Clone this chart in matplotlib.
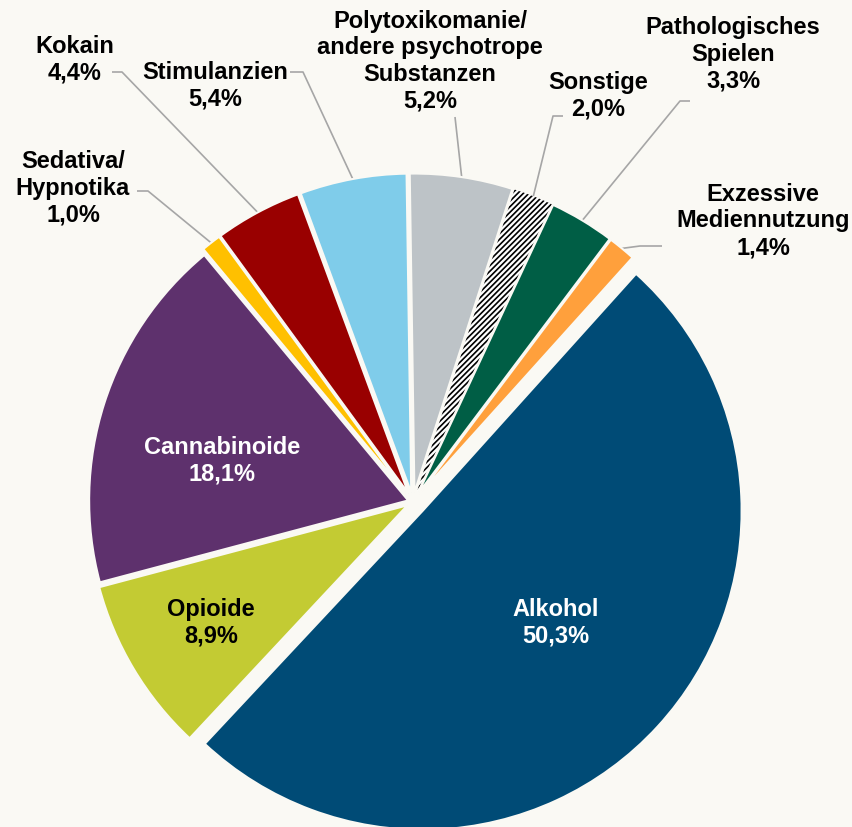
import matplotlib.pyplot as plt
import numpy as np

plt.rcParams['font.family'] = ['Liberation Sans', 'DejaVu Sans']
plt.rcParams['hatch.linewidth'] = 1.2

# data (clockwise from Alkohol)
names = ["Alkohol", "Opioide", "Cannabinoide", "Sedativa/\nHypnotika", "Kokain",
         "Stimulanzien", "Polytoxikomanie/\nandere psychotrope\nSubstanzen",
         "Sonstige", "Pathologisches\nSpielen", "Exzessive\nMediennutzung"]
values = [50.3, 8.9, 18.1, 1.0, 4.4, 5.4, 5.2, 2.0, 3.3, 1.4]
colors = ["#004B76", "#C3CB33", "#5E316D", "#FFC000", "#990000",
          "#7FCCEA", "#BDC3C7", "#FFFFFF", "#005E45", "#FFA03C"]

bg = "#FAF9F4"
W, H = 853, 828
fig = plt.figure(figsize=(W / 100, H / 100), dpi=100, facecolor=bg)
ax = fig.add_axes([0, 0, 1, 1])
ax.set_facecolor(bg)

cx, cy, R = 413, H - 503, 319
# explode given as fraction of radius; matplotlib adds it in data units
explode_frac = [0.041, 0.02, 0.016, 0.03, 0.03, 0.03, 0.03, 0.03, 0.03, 0.03]
wedges, _ = ax.pie(values, colors=colors, startangle=48, counterclock=False,
                   explode=[e * R for e in explode_frac], center=(cx, cy), radius=R,
                   wedgeprops=dict(edgecolor=bg, linewidth=1.5))
wedges[7].set_hatch("//////")
wedges[7].set_edgecolor("black")
wedges[7].set_linewidth(0)
ax.set_xlim(0, W)
ax.set_ylim(0, H)
ax.set_aspect("equal")
ax.axis("off")

def lab(i):
    return names[i] + "\n" + f"{values[i]:.1f}".replace(".", ",") + "%"

fs = 17
ls = 1.2
# inner labels
inner = {0: (556, 623, "white"), 1: (211, 623, "black"), 2: (222, 461, "white")}
for i, (x, y, c) in inner.items():
    ax.text(x, H - y, lab(i), color=c, fontsize=fs, fontweight="bold",
            ha="center", va="center", linespacing=ls)

# outer labels: text centre, leader start, elbow
outer = {
    3: ((73, 188), (137, 192), (148, 192)),
    4: ((75, 60), (112, 73), (122, 73)),
    5: ((215, 86), (290, 73), (303, 73)),
    6: ((430, 61), (455, 118), (455, 118)),
    7: ((598, 96), (563, 117), (553, 117)),
    8: ((733, 54), (690, 102), (680, 102)),
    9: ((763, 221), (662, 247), (640, 247)),
}
for i, ((tx, ty), p0, p1) in outer.items():
    ax.text(tx, H - ty, lab(i), color="black", fontsize=fs, fontweight="bold",
            ha="center", va="center", linespacing=ls)
    w = wedges[i]
    mid = np.deg2rad((w.theta1 + w.theta2) / 2)
    ex, ey = w.center[0] + 1.0 * R * np.cos(mid), w.center[1] + 1.0 * R * np.sin(mid)
    ax.plot([p0[0], p1[0], ex], [H - p0[1], H - p1[1], ey],
            color="#A6A6A6", lw=1.2, zorder=0.5, solid_capstyle="butt")

fig.savefig("out.png", dpi=100, facecolor=bg)
